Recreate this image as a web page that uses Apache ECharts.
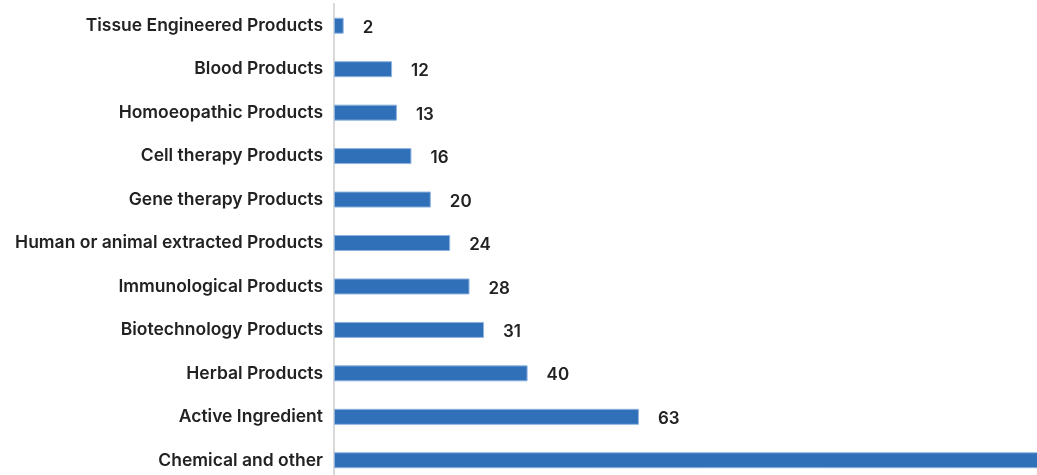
<!DOCTYPE html>
<html>
<head>
<meta charset="utf-8">
<script src="https://cdn.jsdelivr.net/npm/echarts@6/dist/echarts.min.js"></script>
<style>
  html, body { margin: 0; padding: 0; background: #ffffff; overflow: hidden; width: 1037px; height: 475px; }
  #chart { width: 1200px; height: 484px; }
</style>
</head>
<body>
<div id="chart"></div>
<script>
// Product categories, listed top to bottom
const categories = [
  'Tissue Engineered Products',
  'Blood Products',
  'Homoeopathic Products',
  'Cell therapy Products',
  'Gene therapy Products',
  'Human or animal extracted Products',
  'Immunological Products',
  'Biotechnology Products',
  'Herbal Products',
  'Active Ingredient',
  'Chemical and other'
];

// Number of products per category
const counts = [2, 12, 13, 16, 20, 24, 28, 31, 40, 63, 150];

const xMax = 160;
const pxPerUnit = 4.84;

const chart = echarts.init(document.getElementById('chart'), null, { renderer: 'canvas' });

chart.setOption({
  animation: false,
  backgroundColor: '#ffffff',
  grid: {
    left: 334,
    top: 4,
    width: xMax * pxPerUnit,
    height: 478,
    containLabel: false
  },
  xAxis: {
    type: 'value',
    min: 0,
    max: xMax,
    show: false,
    splitLine: { show: false }
  },
  yAxis: {
    type: 'category',
    data: categories,
    inverse: true,
    axisLine: { show: true, lineStyle: { color: '#d9d9d9', width: 2 } },
    axisTick: { show: false },
    axisLabel: {
      margin: 11,
      color: '#222222',
      fontFamily: 'Inter, "Noto Sans", sans-serif',
      fontSize: 17.5,
      fontWeight: 600
    }
  },
  series: [{
    type: 'bar',
    data: counts,
    barWidth: 16,
    itemStyle: {
      color: '#3070b9',
      borderColor: '#8fb3df',
      borderWidth: 1
    },
    label: {
      show: true,
      position: 'right',
      distance: 19,
      offset: [0, 2],
      color: '#222222',
      fontFamily: 'Inter, "Noto Sans", sans-serif',
      fontSize: 17,
      fontWeight: 600
    }
  }]
});
</script>
</body>
</html>
